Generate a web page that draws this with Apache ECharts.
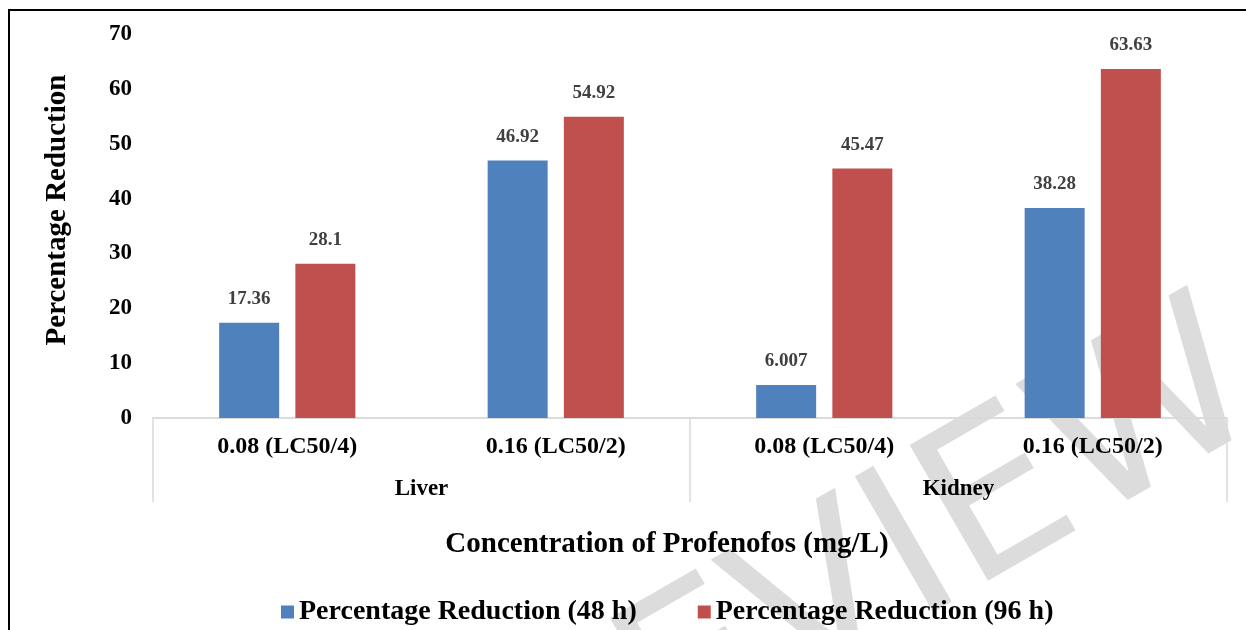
<!DOCTYPE html>
<html>
<head>
<meta charset="utf-8">
<title>Percentage Reduction</title>
<script src="https://cdn.jsdelivr.net/npm/echarts@6/dist/echarts.min.js"></script>
<style>
  html, body { margin: 0; padding: 0; background: #fff; }
  #chart { width: 1246px; height: 630px; }
</style>
</head>
<body>
<div id="chart"></div>
<script>
// Concentration levels (inner axis) and organs (outer axis)
const concentrations = ['0.08 (LC50/4)', '0.16 (LC50/2)', '0.08 (LC50/4)', '0.16 (LC50/2)'];
const organs = ['Liver', 'Kidney'];

// Percentage reduction values per exposure time
const reduction48h = [17.36, 46.92, 6.007, 38.28];
const reduction96h = [28.1, 54.92, 45.47, 63.63];

const seriesNames = ['Percentage Reduction (48 h)', 'Percentage Reduction (96 h)'];
const yTicks = { min: 0, max: 70, interval: 10 };

const FONT = '"Liberation Serif", "Times New Roman", serif';
const AXIS_GREY = '#d9d9d9';

const chart = echarts.init(document.getElementById('chart'), null, { renderer: 'canvas' });

const dataLabel = {
  show: true,
  position: 'top',
  distance: 14,
  fontFamily: FONT,
  fontWeight: 'bold',
  fontSize: 19,
  color: '#404040'
};

chart.setOption({
  backgroundColor: '#ffffff',
  animation: false,
  grid: { left: 153, right: 19, top: 34, bottom: 212, containLabel: false },
  legend: {
    data: seriesNames,
    left: 276,
    top: 593,
    icon: 'rect',
    itemWidth: 13,
    itemHeight: 13,
    itemGap: 61,
    textStyle: { fontFamily: FONT, fontWeight: 'bold', fontSize: 28, color: '#000' }
  },
  xAxis: [
    {
      type: 'category',
      data: concentrations,
      position: 'bottom',
      axisLine: { show: true, lineStyle: { color: AXIS_GREY, width: 1.5 } },
      axisTick: { show: false },
      axisLabel: {
        interval: 0,
        margin: 17,
        fontFamily: FONT,
        fontWeight: 'bold',
        fontSize: 24,
        color: '#000'
      },
      splitLine: { show: false }
    },
    {
      type: 'category',
      data: organs,
      position: 'bottom',
      axisLine: { show: true, lineStyle: { color: AXIS_GREY, width: 1.5 } },
      axisTick: { show: true, interval: 0, length: 84, lineStyle: { color: AXIS_GREY, width: 1.5 } },
      axisLabel: {
        interval: 0,
        margin: 60,
        fontFamily: FONT,
        fontWeight: 'bold',
        fontSize: 23,
        color: '#000'
      },
      splitLine: { show: false }
    }
  ],
  yAxis: {
    type: 'value',
    min: yTicks.min,
    max: yTicks.max,
    interval: yTicks.interval,
    axisLine: { show: false },
    axisTick: { show: false },
    splitLine: { show: false },
    axisLabel: {
      margin: 21,
      fontFamily: FONT,
      fontWeight: 'bold',
      fontSize: 23,
      color: '#000'
    }
  },
  series: [
    {
      name: seriesNames[0],
      type: 'bar',
      xAxisIndex: 0,
      data: reduction48h,
      barWidth: 60,
      barGap: '27%',
      itemStyle: { color: '#4F81BD' },
      label: dataLabel,
      emphasis: { disabled: true },
      z: 3
    },
    {
      name: seriesNames[1],
      type: 'bar',
      xAxisIndex: 0,
      data: reduction96h,
      barWidth: 60,
      barGap: '27%',
      itemStyle: { color: '#C0504D' },
      label: dataLabel,
      emphasis: { disabled: true },
      z: 3
    }
  ],
  graphic: [
    // "PREVIEW" stamp behind the bars
    {
      type: 'text',
      z: 0,
      silent: true,
      x: 822,
      y: 612,
      rotation: 30 * Math.PI / 180,
      style: {
        text: 'PREVIEW',
        x: 0,
        y: 0,
        align: 'center',
        verticalAlign: 'middle',
        textAlign: 'center',
        textVerticalAlign: 'middle',
        font: '215px "DejaVu Sans", sans-serif',
        fill: '#dcdcdc'
      }
    },
    // Outer frame
    {
      type: 'rect',
      z: 10,
      silent: true,
      shape: { x: 9, y: 10, width: 1400, height: 800 },
      style: { fill: 'none', stroke: '#000', lineWidth: 2 }
    },
    // Y axis title
    {
      type: 'text',
      z: 10,
      x: 58,
      y: 210,
      rotation: Math.PI / 2,
      style: {
        text: 'Percentage Reduction',
        x: 0, y: 0,
        align: 'center', verticalAlign: 'middle',
        textAlign: 'center', textVerticalAlign: 'middle',
        font: 'bold 29px ' + FONT,
        fill: '#000'
      }
    },
    // X axis title
    {
      type: 'text',
      z: 10,
      x: 667,
      y: 545,
      style: {
        text: 'Concentration of Profenofos (mg/L)',
        x: 0, y: 0,
        align: 'center', verticalAlign: 'middle',
        textAlign: 'center', textVerticalAlign: 'middle',
        font: 'bold 29px ' + FONT,
        fill: '#000'
      }
    }
  ]
});
</script>
</body>
</html>
